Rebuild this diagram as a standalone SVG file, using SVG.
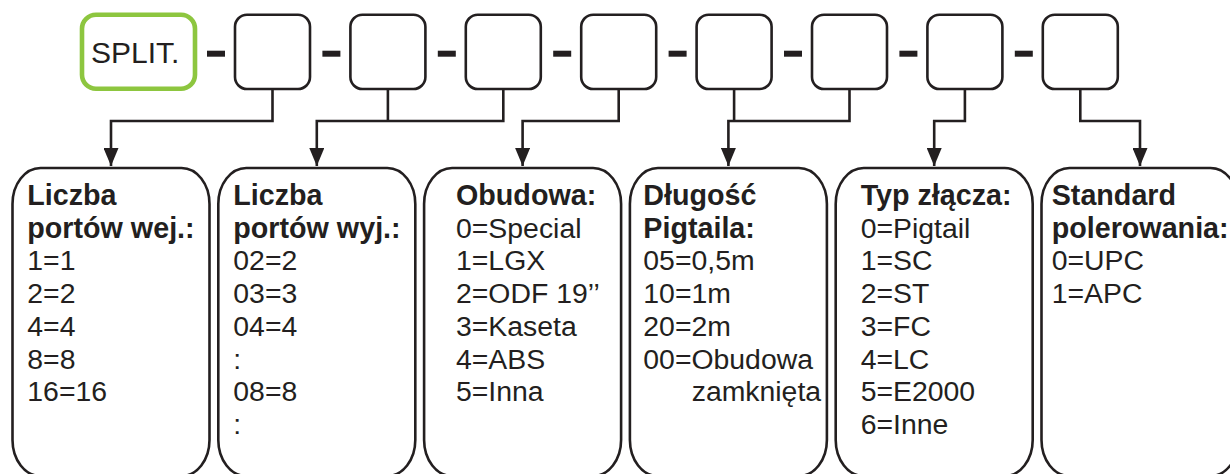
<svg xmlns="http://www.w3.org/2000/svg" width="1230" height="474" viewBox="0 0 1230 474">
  <style>
    .box { fill: #ffffff; stroke: #231f20; stroke-width: 2.6; }
    .split { fill: #ffffff; stroke: #8dc63f; stroke-width: 4.6; }
    .dash { fill: #231f20; }
    .conn { fill: none; stroke: #231f20; stroke-width: 2.6; stroke-linejoin: miter; }
    .t { font-family: "Liberation Sans", Arial, sans-serif; fill: #231f20; font-size: 28.4px; }
    .b { font-weight: bold; font-size: 28.7px; }
  </style>
  <defs>
    <marker id="arrow" markerUnits="userSpaceOnUse" viewBox="0 0 18 15" refX="18" refY="7.5" markerWidth="18" markerHeight="15" orient="auto">
      <path d="M0,0 L18,7.5 L0,15 z" fill="#231f20"/>
    </marker>
  </defs>

  <!-- top row -->
  <g id="split">
    <rect class="split" x="82" y="14.7" width="113" height="74" rx="14" ry="14"/>
    <text class="t" x="91" y="62.7" style="font-size:30px">SPLIT.</text>
  </g>
  <g id="dashes">
    <rect class="dash" x="207" y="50.7" width="18" height="6"/>
    <rect class="dash" x="322.4" y="50.7" width="18" height="6"/>
    <rect class="dash" x="437.8" y="50.7" width="18" height="6"/>
    <rect class="dash" x="553.2" y="50.7" width="18" height="6"/>
    <rect class="dash" x="668.6" y="50.7" width="18" height="6"/>
    <rect class="dash" x="784" y="50.7" width="18" height="6"/>
    <rect class="dash" x="899.4" y="50.7" width="18" height="6"/>
    <rect class="dash" x="1014.8" y="50.7" width="18" height="6"/>
  </g>
  <g id="slot1"><rect class="box" x="235" y="14.7" width="75" height="74.3" rx="12" ry="12"/></g>
  <g id="slot2"><rect class="box" x="350.4" y="14.7" width="75" height="74.3" rx="12" ry="12"/></g>
  <g id="slot3"><rect class="box" x="465.8" y="14.7" width="75" height="74.3" rx="12" ry="12"/></g>
  <g id="slot4"><rect class="box" x="581.2" y="14.7" width="75" height="74.3" rx="12" ry="12"/></g>
  <g id="slot5"><rect class="box" x="696.6" y="14.7" width="75" height="74.3" rx="12" ry="12"/></g>
  <g id="slot6"><rect class="box" x="812" y="14.7" width="75" height="74.3" rx="12" ry="12"/></g>
  <g id="slot7"><rect class="box" x="927.4" y="14.7" width="75" height="74.3" rx="12" ry="12"/></g>
  <g id="slot8"><rect class="box" x="1042.8" y="14.7" width="75" height="74.3" rx="12" ry="12"/></g>

  <!-- connectors -->
  <g id="connectors">
    <path class="conn" d="M272.5,89 V121 H111 V166" marker-end="url(#arrow)"/>
    <path class="conn" d="M387.9,89 V121"/>
    <path class="conn" d="M503.3,89 V121 H316.8 V166" marker-end="url(#arrow)"/>
    <path class="conn" d="M618.7,89 V121 H522.6 V166" marker-end="url(#arrow)"/>
    <path class="conn" d="M734.1,89 V121"/>
    <path class="conn" d="M849.5,89 V121 H728.4 V166" marker-end="url(#arrow)"/>
    <path class="conn" d="M964.9,89 V121 H934.2 V166" marker-end="url(#arrow)"/>
    <path class="conn" d="M1080.3,89 V121 H1140 V166" marker-end="url(#arrow)"/>
  </g>

  <!-- bottom boxes -->
  <g id="ports-in">
    <rect class="box" x="12.5" y="168" width="197" height="308" rx="28" ry="36"/>
    <text class="t b" x="27.3" y="205">Liczba</text>
    <text class="t b" x="27.3" y="237.7">portów wej.:</text>
    <text class="t" x="27.3" y="270.4">1=1</text>
    <text class="t" x="27.3" y="303.1">2=2</text>
    <text class="t" x="27.3" y="335.8">4=4</text>
    <text class="t" x="27.3" y="368.5">8=8</text>
    <text class="t" x="27.3" y="401.2">16=16</text>
  </g>
  <g id="ports-out">
    <rect class="box" x="218.3" y="168" width="197" height="308" rx="28" ry="36"/>
    <text class="t b" x="233.3" y="205">Liczba</text>
    <text class="t b" x="233.3" y="237.7">portów wyj.:</text>
    <text class="t" x="233.3" y="270.4">02=2</text>
    <text class="t" x="233.3" y="303.1">03=3</text>
    <text class="t" x="233.3" y="335.8">04=4</text>
    <text class="t" x="233.3" y="368.5">:</text>
    <text class="t" x="233.3" y="401.2">08=8</text>
    <text class="t" x="233.3" y="433.9">:</text>
  </g>
  <g id="housing">
    <rect class="box" x="424.1" y="168" width="197" height="308" rx="28" ry="36"/>
    <text class="t b" x="456" y="205">Obudowa:</text>
    <text class="t" x="456" y="237.7">0=Special</text>
    <text class="t" x="456" y="270.4">1=LGX</text>
    <text class="t" x="456" y="303.1">2=ODF 19’’</text>
    <text class="t" x="456" y="335.8">3=Kaseta</text>
    <text class="t" x="456" y="368.5">4=ABS</text>
    <text class="t" x="456" y="401.2">5=Inna</text>
  </g>
  <g id="pigtail-length">
    <rect class="box" x="629.9" y="168" width="197" height="308" rx="28" ry="36"/>
    <text class="t b" x="643.3" y="205">Długość</text>
    <text class="t b" x="643.3" y="237.7">Pigtaila:</text>
    <text class="t" x="643.3" y="270.4">05=0,5m</text>
    <text class="t" x="643.3" y="303.1">10=1m</text>
    <text class="t" x="643.3" y="335.8">20=2m</text>
    <text class="t" x="643.3" y="368.5">00=Obudowa</text>
    <text class="t" x="691.7" y="401.2">zamknięta</text>
  </g>
  <g id="connector-type">
    <rect class="box" x="835.7" y="168" width="197" height="308" rx="28" ry="36"/>
    <text class="t b" x="860.7" y="205">Typ złącza:</text>
    <text class="t" x="860.7" y="237.7">0=Pigtail</text>
    <text class="t" x="860.7" y="270.4">1=SC</text>
    <text class="t" x="860.7" y="303.1">2=ST</text>
    <text class="t" x="860.7" y="335.8">3=FC</text>
    <text class="t" x="860.7" y="368.5">4=LC</text>
    <text class="t" x="860.7" y="401.2">5=E2000</text>
    <text class="t" x="860.7" y="433.9">6=Inne</text>
  </g>
  <g id="polishing">
    <rect class="box" x="1041.5" y="168" width="197" height="308" rx="28" ry="36"/>
    <text class="t b" x="1051.7" y="205">Standard</text>
    <text class="t b" x="1051.7" y="237.7">polerowania:</text>
    <text class="t" x="1051.7" y="270.4">0=UPC</text>
    <text class="t" x="1051.7" y="303.1">1=APC</text>
  </g>
</svg>
